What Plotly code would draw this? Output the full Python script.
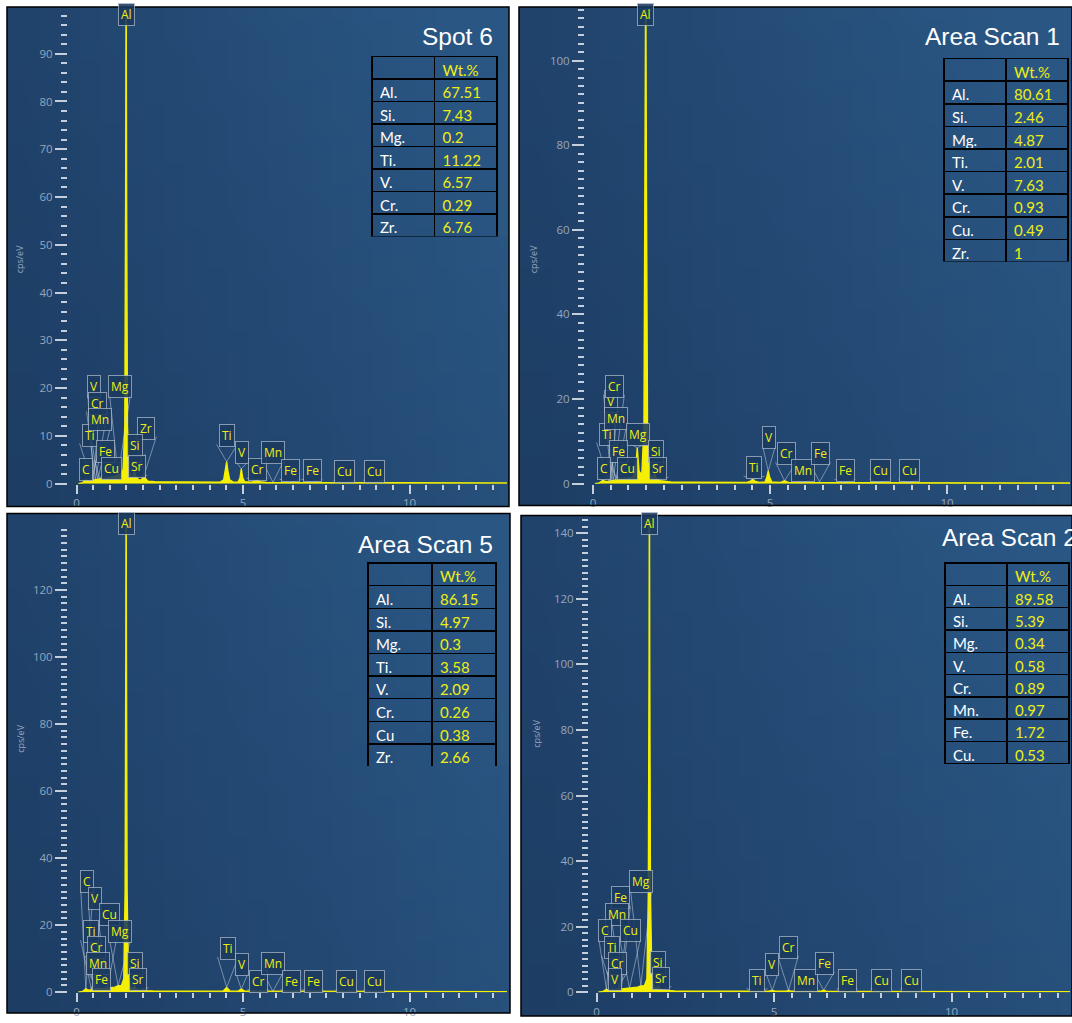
import base64
import struct
import zlib

import numpy as np
import plotly.graph_objects as go

W, H = 1072, 1023

# ---------------------------------------------------------------------------
# EDS spectra: energy (keV) and intensity (cps/eV)
# ---------------------------------------------------------------------------
spot6_keV = [0.05, 0.18, 0.28, 0.36, 0.45, 0.52, 0.60, 0.70, 0.85, 1.00, 1.15, 1.25, 1.33, 1.40,
             1.45, 1.475, 1.49, 1.505, 1.53, 1.58, 1.65, 1.71, 1.74, 1.77, 1.81, 1.85, 1.92, 2.00,
             2.04, 2.08, 2.15, 2.35, 2.8, 3.5, 4.3, 4.42, 4.47, 4.51, 4.55, 4.60, 4.72, 4.85, 4.91,
             4.95, 4.99, 5.05, 5.25, 5.36, 5.43, 5.50, 5.7, 6.4, 7.5, 9.0, 11.0, 13.5]
spot6_cps = [0.0, 0.2, 0.9, 0.5, 0.7, 0.8, 0.9, 1.0, 1.1, 1.3, 1.5, 1.8, 2.0, 3.0,
             12, 60, 110, 60, 12, 2.5, 1.2, 1.8, 2.8, 1.6, 1.4, 0.9, 0.7, 1.2,
             2.0, 1.0, 0.5, 0.4, 0.35, 0.3, 0.3, 0.8, 2.5, 4.6, 2.5, 0.8, 0.3, 0.35, 1.2,
             3.1, 1.2, 0.4, 0.3, 0.5, 0.8, 0.4, 0.25, 0.25, 0.2, 0.2, 0.15, 0.15]

scan1_keV = [0.05, 0.18, 0.28, 0.36, 0.45, 0.52, 0.60, 0.70, 0.85, 1.00, 1.12, 1.20, 1.25, 1.30,
             1.38, 1.44, 1.47, 1.49, 1.51, 1.54, 1.60, 1.68, 1.74, 1.80, 1.90, 2.04, 2.2, 2.8,
             3.5, 4.35, 4.45, 4.51, 4.57, 4.7, 4.86, 4.91, 4.95, 4.99, 5.05, 5.3, 5.41, 5.52,
             5.8, 6.3, 6.4, 6.5, 7.5, 9.0, 11.0, 14.0]
scan1_cps = [0.0, 0.2, 0.8, 0.5, 0.6, 0.7, 0.8, 0.9, 1.0, 1.2, 1.5, 3.0, 8.5, 3.0,
             2.0, 14, 70, 125, 70, 14, 2.5, 1.3, 2.2, 1.2, 0.7, 0.6, 0.4, 0.35,
             0.3, 0.3, 0.6, 1.0, 0.6, 0.3, 0.4, 1.5, 3.0, 1.5, 0.4, 0.3, 0.7, 0.3,
             0.25, 0.25, 0.4, 0.25, 0.2, 0.2, 0.15, 0.15]

scan5_keV = [0.05, 0.18, 0.28, 0.36, 0.45, 0.52, 0.60, 0.70, 0.85, 1.00, 1.15, 1.25, 1.35, 1.42,
             1.46, 1.48, 1.49, 1.50, 1.52, 1.56, 1.63, 1.70, 1.74, 1.78, 1.84, 1.95, 2.04, 2.12,
             2.3, 3.0, 4.0, 4.40, 4.51, 4.62, 4.85, 4.95, 5.05, 5.4, 6.0, 7.5, 9.0, 11.0, 14.0]
scan5_cps = [0.0, 0.2, 1.0, 0.6, 0.7, 0.8, 0.9, 1.0, 1.1, 1.3, 1.5, 1.9, 2.0, 4.0,
             30, 100, 160, 100, 30, 4.0, 1.4, 1.2, 2.0, 1.1, 0.7, 0.5, 0.8, 0.4,
             0.35, 0.3, 0.3, 0.3, 1.4, 0.3, 0.3, 0.9, 0.3, 0.3, 0.25, 0.2, 0.2, 0.15, 0.15]

scan2_keV = [0.05, 0.18, 0.28, 0.36, 0.45, 0.52, 0.60, 0.70, 0.85, 1.00, 1.15, 1.25, 1.35, 1.42,
             1.46, 1.48, 1.49, 1.50, 1.52, 1.56, 1.63, 1.70, 1.74, 1.78, 1.84, 1.95, 2.2, 3.0,
             4.0, 4.85, 4.95, 5.05, 5.35, 5.41, 5.47, 5.85, 5.90, 5.95, 6.33, 6.40, 6.47, 7.0,
             8.0, 9.0, 11.0, 14.0]
scan2_cps = [0.0, 0.2, 0.9, 0.6, 0.7, 0.8, 0.9, 1.0, 1.1, 1.3, 1.5, 1.9, 2.0, 4.0,
             30, 100, 165, 100, 30, 4.0, 1.5, 1.3, 1.8, 1.1, 0.7, 0.5, 0.35, 0.3,
             0.3, 0.3, 0.5, 0.3, 0.3, 0.6, 0.3, 0.3, 0.5, 0.3, 0.3, 0.6, 0.3, 0.2,
             0.2, 0.2, 0.15, 0.15]

# ---------------------------------------------------------------------------
# Quantification tables (Wt.%)
# ---------------------------------------------------------------------------
spot6_elements = ["Al.", "Si.", "Mg.", "Ti.", "V.", "Cr.", "Zr."]
spot6_wt = ["67.51", "7.43", "0.2", "11.22", "6.57", "0.29", "6.76"]
scan1_elements = ["Al.", "Si.", "Mg.", "Ti.", "V.", "Cr.", "Cu.", "Zr."]
scan1_wt = ["80.61", "2.46", "4.87", "2.01", "7.63", "0.93", "0.49", "1"]
scan5_elements = ["Al.", "Si.", "Mg.", "Ti.", "V.", "Cr.", "Cu", "Zr."]
scan5_wt = ["86.15", "4.97", "0.3", "3.58", "2.09", "0.26", "0.38", "2.66"]
scan2_elements = ["Al.", "Si.", "Mg.", "V.", "Cr.", "Mn.", "Fe.", "Cu."]
scan2_wt = ["89.58", "5.39", "0.34", "0.58", "0.89", "0.97", "1.72", "0.53"]

# Characteristic X-ray line energies (keV) used by the element flags
LINE_KEV = {
    "C": 0.28, "Ti L": 0.45, "V L": 0.51, "Cr L": 0.57, "Mn L": 0.64, "Fe L": 0.70,
    "Cu L": 0.93, "Mg": 1.25, "Al": 1.49, "Si": 1.74, "Sr": 1.81, "Zr": 2.04,
    "Ti": 4.51, "V": 4.95, "Cr": 5.41, "Mn": 5.90, "Fe": 6.40, "Fe Kb": 7.06,
    "Cu": 8.04, "Cu Kb": 8.90,
}

# ---------------------------------------------------------------------------
# Panel layout (pixel geometry) and flag placement
# ---------------------------------------------------------------------------
panels = [
    dict(title="Spot 6", keV=spot6_keV, cps=spot6_cps,
         elements=spot6_elements, wt=spot6_wt,
         frame=(7, 7, 509, 510), plot=(68, 507, 9, 487), x0=76.5, sx=33.3, sy=4.81, ymajor=10,
         title_xy=(495, 37, "right"), table=(372, 57, 498, 22.5), ylab=(19, 245),
         al=(126, 15),
         flags=[("Ti", "Ti L", 90, 438), ("V", "V L", 94, 389), ("Mg", "Mg", 120, 389),
                ("Cr", "Cr L", 97, 406), ("Mn", "Mn L", 100, 422), ("Fe", "Fe L", 105, 455),
                ("C", "C", 86, 473), ("Cu", "Cu L", 111, 472), ("Zr", "Zr", 146, 431),
                ("Si", "Si", 135, 449), ("Sr", "Sr", 137, 470), ("Ti", "Ti", 227, 439),
                ("V", "V", 242, 456), ("Cr", "Cr", 257, 473), ("Mn", "Mn", 273, 456),
                ("Fe", "Fe", 290, 474), ("Fe", "Fe Kb", 312, 474), ("Cu", "Cu", 344, 475),
                ("Cu", "Cu Kb", 374, 475)]),
    dict(title="Area Scan 1", keV=scan1_keV, cps=scan1_cps,
         elements=scan1_elements, wt=scan1_wt,
         frame=(519, 7, 1072, 509), plot=(585, 1070, 9, 487), x0=593, sx=35.4, sy=4.26, ymajor=20,
         title_xy=(1062, 37, "right"), table=(944, 59, 1068, 22.6), ylab=(533, 245),
         al=(646, 15),
         flags=[("Ti", "Ti L", 607, 437), ("V", "V L", 611, 404), ("Cr", "Cr L", 614, 389),
                ("Mn", "Mn L", 616, 421), ("Mg", "Mg", 638, 437), ("Fe", "Fe L", 618, 455),
                ("Si", "Si", 656, 455), ("C", "C", 604, 472), ("Cu", "Cu L", 627, 472),
                ("Sr", "Sr", 658, 472), ("Ti", "Ti", 754, 471), ("V", "V", 769, 441),
                ("Cr", "Cr", 786, 457), ("Mn", "Mn", 803, 474), ("Fe", "Fe", 820, 457),
                ("Fe", "Fe Kb", 845, 474), ("Cu", "Cu", 880, 474), ("Cu", "Cu Kb", 909, 474)]),
    dict(title="Area Scan 5", keV=scan5_keV, cps=scan5_cps,
         elements=scan5_elements, wt=scan5_wt,
         frame=(7, 517, 510, 1020), plot=(68, 507, 528, 999), x0=76.5, sx=33.3, sy=3.375, ymajor=20,
         title_xy=(495, 548, "right"), table=(368, 567, 496, 22.6), ylab=(21, 760),
         al=(126, 527),
         flags=[("C", "C", 87, 888), ("V", "V L", 95, 905), ("Cu", "Cu L", 109, 921),
                ("Ti", "Ti L", 91, 938), ("Mg", "Mg", 120, 938), ("Cr", "Cr L", 96, 954),
                ("Mn", "Mn L", 98, 970), ("Si", "Si", 135, 970), ("Fe", "Fe L", 101, 986),
                ("Sr", "Sr", 138, 986), ("Ti", "Ti", 228, 955), ("V", "V", 242, 971),
                ("Cr", "Cr", 258, 988), ("Mn", "Mn", 273, 970), ("Fe", "Fe", 291, 988),
                ("Fe", "Fe Kb", 313, 988), ("Cu", "Cu", 346, 988), ("Cu", "Cu Kb", 374, 988)]),
    dict(title="Area Scan 2", keV=scan2_keV, cps=scan2_cps,
         elements=scan2_elements, wt=scan2_wt,
         frame=(521, 519, 1072, 1023), plot=(589, 1070, 521, 999), x0=596.5, sx=35.5, sy=3.30, ymajor=20,
         title_xy=(940, 541, "left"), table=(945, 567, 1070, 22.3), ylab=(537, 755),
         al=(648, 527),
         flags=[("Mg", "Mg", 641, 888), ("Fe", "Fe L", 620, 904), ("Mn", "Mn L", 617, 921),
                ("C", "C", 605, 937), ("Cu", "Cu L", 630, 937), ("Ti", "Ti L", 612, 954),
                ("Cr", "Cr L", 617, 970), ("Si", "Si", 658, 969), ("V", "V L", 615, 986),
                ("Sr", "Sr", 661, 985), ("Ti", "Ti", 757, 987), ("V", "V", 772, 971),
                ("Cr", "Cr", 788, 954), ("Mn", "Mn", 806, 987), ("Fe", "Fe", 824, 970),
                ("Fe", "Fe Kb", 847, 987), ("Cu", "Cu", 881, 987), ("Cu", "Cu Kb", 911, 987)]),
]

YELLOW = "rgb(238,238,20)"
SPEC_YELLOW = "rgb(245,240,0)"
TICK_COLOR = "rgba(215,222,232,0.9)"
TICK_FONT = dict(family="Open Sans", size=11.5, color="rgb(150,166,188)")
FLAG_FONT = dict(family="Open Sans", size=12, color=YELLOW)
FLAG_BG = "rgba(27,58,95,0.88)"
FLAG_EDGE = "rgba(190,202,216,0.65)"
POINTER = "rgba(205,215,228,0.5)"
DARK = (29, 61, 100)
LIGHT = (42, 86, 131)


def gradient_png(w=24, h=24):
    """Small RGB PNG with the instrument-style navy gradient, as a data URI."""
    rows = []
    for j in range(h):
        v = j / (h - 1)
        row = bytearray([0])
        for i in range(w):
            u = i / (w - 1)
            t = min(1.0, max(0.0, 0.75 * u + 0.25 * (1 - v) + 0.12 * u * (1 - v)))
            row += bytes(int(round(d + (l - d) * t)) for d, l in zip(DARK, LIGHT))
        rows.append(bytes(row))
    raw = b"".join(rows)

    def chunk(tag, data):
        return (struct.pack(">I", len(data)) + tag + data
                + struct.pack(">I", zlib.crc32(tag + data) & 0xFFFFFFFF))

    png = (b"\x89PNG\r\n\x1a\n"
           + chunk(b"IHDR", struct.pack(">IIBBBBB", w, h, 8, 2, 0, 0, 0))
           + chunk(b"IDAT", zlib.compress(raw, 9))
           + chunk(b"IEND", b""))
    return "data:image/png;base64," + base64.b64encode(png).decode()


def px(x):
    return x / W


def py(y):
    return 1 - y / H


BG = gradient_png()

fig = go.Figure()
layout = dict(
    width=W, height=H, margin=dict(l=0, r=0, t=0, b=0),
    paper_bgcolor="white", plot_bgcolor="rgba(0,0,0,0)",
    showlegend=False, images=[], shapes=[], annotations=[],
)

for k, p in enumerate(panels):
    n = "" if k == 0 else str(k + 1)
    L, R, T, B = p["plot"]
    x0, sx, sy = p["x0"], p["sx"], p["sy"]

    # panel background + frame
    fx0, fy0, fx1, fy1 = p["frame"]
    layout["images"].append(dict(
        source=BG, xref="paper", yref="paper", x=px(fx0), y=py(fy0),
        sizex=(fx1 - fx0) / W, sizey=(fy1 - fy0) / H, xanchor="left", yanchor="top",
        sizing="stretch", layer="below"))
    layout["shapes"].append(dict(
        type="rect", xref="paper", yref="paper", x0=px(fx0), x1=px(fx1),
        y0=py(fy1), y1=py(fy0), line=dict(color="black", width=1.5)))

    # axes
    layout["xaxis" + n] = dict(
        domain=[L / W, R / W], range=[(L - x0) / sx, (R - x0) / sx], anchor="y" + n,
        showgrid=False, zeroline=False, showline=False,
        ticks="outside", ticklen=9, tickwidth=2, tickcolor=TICK_COLOR,
        dtick=5, tick0=0, tickfont=TICK_FONT,
        minor=dict(dtick=0.5, tick0=0, ticks="outside", ticklen=5, tickwidth=2, tickcolor=TICK_COLOR),
    )
    layout["yaxis" + n] = dict(
        domain=[1 - B / H, 1 - T / H], range=[0, (B - T) / sy], anchor="x" + n,
        showgrid=False, zeroline=False, showline=False,
        ticks="outside", ticklen=12, tickwidth=2, tickcolor=TICK_COLOR,
        dtick=p["ymajor"], tick0=0, tickfont=TICK_FONT,
        minor=dict(dtick=2, tick0=0, ticks="outside", ticklen=6, tickwidth=2, tickcolor=TICK_COLOR),
    )

    # spectrum
    fig.add_trace(go.Scatter(
        x=p["keV"], y=p["cps"], xaxis="x" + n, yaxis="y" + n, mode="lines",
        line=dict(color=SPEC_YELLOW, width=1.4), fill="tozeroy", fillcolor=SPEC_YELLOW,
        hoverinfo="skip"))

    # element flags: label box with a V-shaped pointer down to the line energy
    for text, line, bx, by in p["flags"]:
        e = LINE_KEV[line]
        h = float(np.interp(e, p["keV"], p["cps"]))
        tip_x = x0 + e * sx
        tip_y = B - h * sy
        half_w = 4.2 * len(text) + 2.0
        base_y = by + 8.5
        layout["shapes"].append(dict(
            type="path", xref="paper", yref="paper",
            path=(f"M{px(bx - half_w)},{py(base_y)} L{px(tip_x)},{py(tip_y)} "
                  f"L{px(bx + half_w)},{py(base_y)}"),
            line=dict(color=POINTER, width=1)))
        layout["annotations"].append(dict(
            x=px(bx), y=py(by), xref="paper", yref="paper", text=text,
            showarrow=False, xanchor="center", yanchor="middle",
            font=FLAG_FONT, bgcolor=FLAG_BG, bordercolor=FLAG_EDGE,
            borderwidth=1, borderpad=2))
    ax_, ay_ = p["al"]
    layout["annotations"].append(dict(
        x=LINE_KEV["Al"], y=py(ay_), xref="x" + n, yref="paper", text="Al",
        showarrow=False, yanchor="middle", font=FLAG_FONT, bgcolor=FLAG_BG,
        bordercolor=FLAG_EDGE, borderwidth=1, borderpad=2))

    # panel title
    tx, ty, anchor = p["title_xy"]
    layout["annotations"].append(dict(
        x=px(tx), y=py(ty), xref="paper", yref="paper", text=p["title"],
        xanchor=anchor, yanchor="middle", showarrow=False,
        font=dict(family="Liberation Sans", size=24.5, color="white")))

    # y-axis unit
    lx, ly = p["ylab"]
    layout["annotations"].append(dict(
        x=px(lx), y=py(ly), xref="paper", yref="paper", text="cps/eV",
        textangle=-90, showarrow=False, xanchor="center",
        font=dict(family="Open Sans", size=9, color="rgb(150,166,188)")))

    # composition table
    tx0, ty0, tx1, rh = p["table"]
    nrows = len(p["elements"]) + 1
    fig.add_trace(go.Table(
        domain=dict(x=[px(tx0), px(tx1)], y=[py(ty0 + nrows * rh + 2), py(ty0)]),
        columnwidth=[1, 1],
        header=dict(values=["", "Wt.%"], height=rh, align="left",
                    fill_color="rgba(0,0,0,0)", line=dict(color="black", width=1.5),
                    font=dict(family="Lato", size=15, color=["white", YELLOW])),
        cells=dict(values=[p["elements"], p["wt"]], height=rh, align="left",
                   fill_color="rgba(0,0,0,0)", line=dict(color="black", width=1.5),
                   font=dict(family="Lato", size=15,
                             color=[["white"] * len(p["elements"]), [YELLOW] * len(p["wt"])])),
    ))

fig.update_layout(**layout)
fig.write_html("out.html")
